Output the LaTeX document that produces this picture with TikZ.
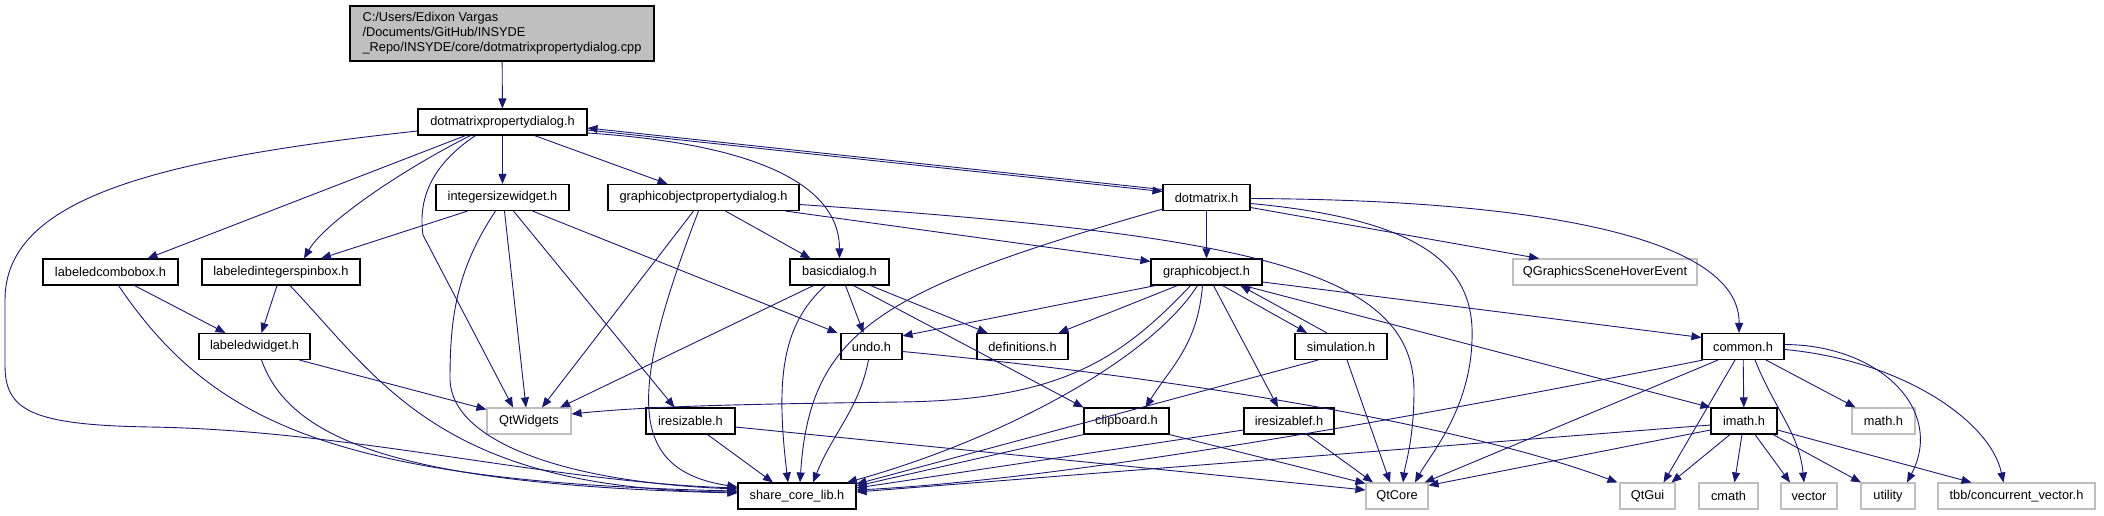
\documentclass[tikz,border=0pt]{standalone}
\usepackage{fontspec}
\setmainfont{Liberation Sans}
\usepackage{xcolor}
\usepackage{tikz}
\usetikzlibrary{arrows.meta}

\definecolor{edgeblue}{HTML}{191970}
\definecolor{sysgray}{HTML}{BFBFBF}
\newcommand{\dxfont}{\fontsize{12.8}{15}\selectfont}

\begin{document}
\begin{tikzpicture}[
  x=1pt, y=1pt,
  hdr/.style    = {rectangle, draw=black, fill=white, line width=1.1pt,
                   minimum height=26pt, inner sep=0pt, font=\dxfont},
  sys/.style    = {hdr, draw=sysgray},
  srcbox/.style = {hdr, fill=sysgray, align=left, minimum height=55pt},
  arr/.style    = {-{Triangle[length=10pt,width=8pt]}, line width=0.9pt, edgeblue}
]
\useasboundingbox (0,0) rectangle (2104,-515);

% ── Source file ──────────────────────────────────────────────────────────────
\node[srcbox, minimum width=304pt] (root) at (502,-33.5)
     {C:/Users/Edixon Vargas\\/Documents/GitHub/INSYDE\\\_Repo/INSYDE/core/dotmatrixpropertydialog.cpp};

% ── Row 1-2 ──────────────────────────────────────────────────────────────────
\node[hdr, minimum width=169pt] (dmpd)      at (502.5,-122)  {dotmatrixpropertydialog.h};
\node[hdr, minimum width=133pt] (isw)       at (502.5,-197.5) {integersizewidget.h};
\node[hdr, minimum width=191pt] (gopd)      at (703.5,-197.5) {graphicobjectpropertydialog.h};
\node[hdr, minimum width=87pt]  (dotmatrix) at (1206.5,-197.5) {dotmatrix.h};

% ── Row 3 ────────────────────────────────────────────────────────────────────
\node[hdr, minimum width=135pt] (lcb)   at (110.5,-272)  {labeledcombobox.h};
\node[hdr, minimum width=158pt] (lisb)  at (281,-272)    {labeledintegerspinbox.h};
\node[hdr, minimum width=99pt]  (bd)    at (839.5,-272)  {basicdialog.h};
\node[hdr, minimum width=111pt] (gobj)  at (1206.5,-272) {graphicobject.h};
\node[sys, minimum width=184pt] (qgshe) at (1605,-272)   {QGraphicsSceneHoverEvent};

% ── Row 4 ────────────────────────────────────────────────────────────────────
\node[hdr, minimum width=111pt] (lw)     at (254.5,-346.5)  {labeledwidget.h};
\node[hdr, minimum width=61pt]  (undo)   at (871.5,-346.5)  {undo.h};
\node[hdr, minimum width=91pt]  (defs)   at (1022.5,-346.5) {definitions.h};
\node[hdr, minimum width=92pt]  (sim)    at (1341,-346.5)   {simulation.h};
\node[hdr, minimum width=82pt]  (common) at (1743,-346.5)   {common.h};

% ── Row 5 ────────────────────────────────────────────────────────────────────
\node[sys, minimum width=84pt] (qtwidgets)   at (529,-421)    {QtWidgets};
\node[hdr, minimum width=89pt] (iresizable)  at (690.5,-421)  {iresizable.h};
\node[hdr, minimum width=85pt] (clipboard)   at (1126.5,-421) {clipboard.h};
\node[hdr, minimum width=90pt] (iresizablef) at (1289,-421)   {iresizablef.h};
\node[hdr, minimum width=66pt] (imath)       at (1744,-421)   {imath.h};
\node[sys, minimum width=63pt] (mathh)       at (1883.5,-421) {math.h};

% ── Row 6 ────────────────────────────────────────────────────────────────────
\node[hdr, minimum width=118pt] (share)   at (797,-496)    {share\_core\_lib.h};
\node[sys, minimum width=62pt]  (qtcore)  at (1397,-496)   {QtCore};
\node[sys, minimum width=55pt]  (qtgui)   at (1647.5,-496) {QtGui};
\node[sys, minimum width=59pt]  (cmath)   at (1728.5,-496) {cmath};
\node[sys, minimum width=56pt]  (vector)  at (1809,-496)   {vector};
\node[sys, minimum width=54pt]  (utility) at (1888,-496)   {utility};
\node[sys, minimum width=157pt] (tbb)     at (2016.5,-496) {tbb/concurrent\_vector.h};

% ── dotmatrixpropertydialog.h ────────────────────────────────────────────────
\draw[arr] (root) -- (dmpd);
\draw[arr] ([yshift=-9pt]dmpd.west) .. controls (150,-160) and (5,-200) .. (5,-300)
           -- (5,-365) .. controls (5,-410) and (30,-425) .. (150,-427)
           .. controls (350,-430) and (550,-482) .. ([yshift=8pt]share.west);
\draw[arr] ([xshift=-37pt]dmpd.south) -- ([xshift=37pt]lcb.north);
\draw[arr] ([xshift=-32pt]dmpd.south) .. controls +(-70,-35) and +(20,35) .. ([xshift=23pt]lisb.north);
\draw[arr] ([xshift=-27pt]dmpd.south) .. controls +(-45,-30) and +(-5,35) .. (423,-235)
           -- ([xshift=-16pt]qtwidgets.north);
\draw[arr] (dmpd) -- (isw);
\draw[arr] ([xshift=32pt]dmpd.south) -- ([xshift=-36pt]gopd.north);
\draw[arr] ([yshift=-11pt]dmpd.east) .. controls +(200,-13) and +(0,60) .. (bd.north);
\draw[arr] ([yshift=-8pt]dmpd.east) -- ([yshift=6pt]dotmatrix.west);
\draw[arr] ([yshift=8pt]dotmatrix.west) -- ([yshift=-6pt]dmpd.east);

% ── integersizewidget.h ──────────────────────────────────────────────────────
\draw[arr] ([xshift=-35pt]isw.south) -- ([xshift=40pt]lisb.north);
\draw[arr] ([xshift=-7pt]isw.south) .. controls +(-40,-60) and +(0,60) .. (450,-380)
           .. controls (452,-440) and (560,-482) .. ([yshift=7pt]share.west);
\draw[arr] ([xshift=2pt]isw.south) -- ([xshift=-3pt]qtwidgets.north);
\draw[arr] ([xshift=11pt]isw.south) -- ([xshift=-16pt]iresizable.north);
\draw[arr] ([xshift=30pt]isw.south) -- ([xshift=-34pt]undo.north);

% ── graphicobjectpropertydialog.h ────────────────────────────────────────────
\draw[arr] ([xshift=-10pt]gopd.south) -- ([xshift=13pt]qtwidgets.north);
\draw[arr] ([xshift=-5pt]gopd.south) .. controls (630,-390) and (625,-470) .. ([yshift=9pt]share.west);
\draw[arr] ([xshift=22pt]gopd.south) -- ([xshift=-29pt]bd.north);
\draw[arr] ([xshift=82pt]gopd.south) -- ([yshift=-3pt]gobj.north west);
\draw[arr] ([yshift=-7pt]gopd.east) .. controls (1250,-235) and (1413,-270) .. (1414,-390)
           .. controls (1414,-440) and (1405,-465) .. ([xshift=6pt]qtcore.north);

% ── dotmatrix.h ──────────────────────────────────────────────────────────────
\draw[arr] (dotmatrix) -- (gobj);
\draw[arr] ([yshift=2pt]dotmatrix.south west) .. controls (880,-290) and (810,-330) .. ([xshift=3pt]share.north);
\draw[arr] ([yshift=-1pt]dotmatrix.east) .. controls (1550,-200) and (1740,-240) .. ([xshift=-4pt]common.north);
\draw[arr] ([yshift=-6pt]dotmatrix.east) .. controls (1430,-220) and (1475,-270) .. (1472,-340)
           .. controls (1470,-410) and (1430,-455) .. ([xshift=18pt]qtcore.north);
\draw[arr] ([yshift=-10pt]dotmatrix.east) -- ([xshift=-66pt]qgshe.north);

% ── labeled widgets ──────────────────────────────────────────────────────────
\draw[arr] ([xshift=24pt]lcb.south) -- ([xshift=-29pt]lw.north);
\draw[arr] ([xshift=8pt]lcb.south) .. controls (210,-420) and (330,-482) .. ([yshift=5pt]share.west);
\draw[arr] ([xshift=-4pt]lisb.south) -- ([xshift=7pt]lw.north);
\draw[arr] ([xshift=9pt]lisb.south) .. controls (380,-380) and (440,-490) .. ([yshift=4pt]share.west);
\draw[arr] ([xshift=45pt]lw.south) -- ([yshift=-2pt]qtwidgets.north west);
\draw[arr] ([xshift=7pt]lw.south) .. controls (290,-440) and (400,-485) .. ([yshift=3pt]share.west);

% ── basicdialog.h ────────────────────────────────────────────────────────────
\draw[arr] ([xshift=-26pt]bd.south) -- ([xshift=31pt]qtwidgets.north);
\draw[arr] ([xshift=-14pt]bd.south) .. controls +(-45,-40) and +(-12,100) .. ([xshift=-9pt]share.north);
\draw[arr] ([xshift=6pt]bd.south) -- ([xshift=-8pt]undo.north);
\draw[arr] ([xshift=14pt]bd.south) -- (clipboard.north west);
\draw[arr] ([xshift=31pt]bd.south) -- ([xshift=-35pt]defs.north);

% ── graphicobject.h ──────────────────────────────────────────────────────────
\draw[arr] ([xshift=5pt]gobj.south west) -- ([yshift=-3pt]undo.north east);
\draw[arr] ([xshift=-29pt]gobj.south) -- ([xshift=36pt]defs.north);
\draw[arr] ([xshift=-16pt]gobj.south) .. controls (1120,-360) and (1060,-400) .. (900,-402)
           .. controls (750,-404) and (650,-406) .. ([yshift=7pt]qtwidgets.east);
\draw[arr] ([xshift=-9pt]gobj.south) .. controls (1150,-360) and (1000,-440) .. ([xshift=50pt]share.north);
\draw[arr] ([xshift=-4pt]gobj.south) .. controls +(-5,-60) and +(25,40) .. ([xshift=19pt]clipboard.north);
\draw[arr] ([xshift=7pt]gobj.south) -- ([xshift=-11pt]iresizablef.north);
\draw[arr] ([xshift=16pt]gobj.south) -- ([xshift=-34pt]sim.north);
\draw[arr] ([xshift=-14pt]sim.north) -- ([xshift=34pt]gobj.south);
\draw[arr] ([yshift=-10pt]gobj.east) -- ([yshift=9pt]common.west);
\draw[arr] ([xshift=-19pt]gobj.south east) -- (imath.north west);

% ── simulation.h, undo.h ─────────────────────────────────────────────────────
\draw[arr] ([xshift=-23pt]sim.south) -- ([yshift=12pt]share.east);
\draw[arr] ([xshift=6pt]sim.south) -- ([xshift=-7pt]qtcore.north);
\draw[arr] ([xshift=-3pt]undo.south) .. controls +(-10,-50) and +(20,50) .. ([xshift=16pt]share.north);
\draw[arr] ([yshift=-5pt]undo.east) .. controls (1150,-375) and (1450,-420) .. ([xshift=-30pt]qtgui.north);

% ── iresizable.h, clipboard.h, iresizablef.h ─────────────────────────────────
\draw[arr] ([xshift=17pt]iresizable.south) -- ([xshift=-24pt]share.north);
\draw[arr] ([yshift=-6pt]iresizable.east) -- ([yshift=6pt]qtcore.west);
\draw[arr] (clipboard.south west) -- ([yshift=10pt]share.east);
\draw[arr] (clipboard.south east) -- ([yshift=-1pt]qtcore.north west);
\draw[arr] ([yshift=-9pt]iresizablef.west) -- ([yshift=8pt]share.east);
\draw[arr] ([xshift=18pt]iresizablef.south) -- ([xshift=-24pt]qtcore.north);

% ── common.h ─────────────────────────────────────────────────────────────────
\draw[arr] ([xshift=-40pt]common.south) .. controls (1350,-430) and (1050,-480) .. ([yshift=6pt]share.east);
\draw[arr] ([xshift=-25pt]common.south) -- ([xshift=-4pt]qtcore.north east);
\draw[arr] ([xshift=-8pt]common.south) -- ([xshift=16pt]qtgui.north);
\draw[arr] (common) -- (imath);
\draw[arr] ([xshift=23pt]common.south) -- ([xshift=-28pt]mathh.north);
\draw[arr] ([xshift=12pt]common.south) .. controls +(20,-50) and +(-5,50) .. ([xshift=-5pt]vector.north);
\draw[arr] ([yshift=2pt]common.east) .. controls (1880,-345) and (1945,-410) .. ([xshift=19pt]utility.north);
\draw[arr] ([yshift=-3pt]common.east) .. controls (1900,-360) and (1990,-420) .. ([xshift=-13pt]tbb.north);

% ── imath.h ──────────────────────────────────────────────────────────────────
\draw[arr] ([yshift=-4pt]imath.west) -- ([yshift=4pt]share.east);
\draw[arr] ([yshift=-9pt]imath.west) -- ([yshift=-3pt]qtcore.north east);
\draw[arr] ([xshift=-14pt]imath.south) -- ([xshift=24pt]qtgui.north);
\draw[arr] ([xshift=-2pt]imath.south) -- ([xshift=6pt]cmath.north);
\draw[arr] ([xshift=11pt]imath.south) -- ([xshift=-19pt]vector.north);
\draw[arr] ([xshift=29pt]imath.south) -- ([xshift=-27pt]utility.north);
\draw[arr] ([yshift=-9pt]imath.east) -- ([xshift=-45pt]tbb.north);
\end{tikzpicture}
\end{document}
